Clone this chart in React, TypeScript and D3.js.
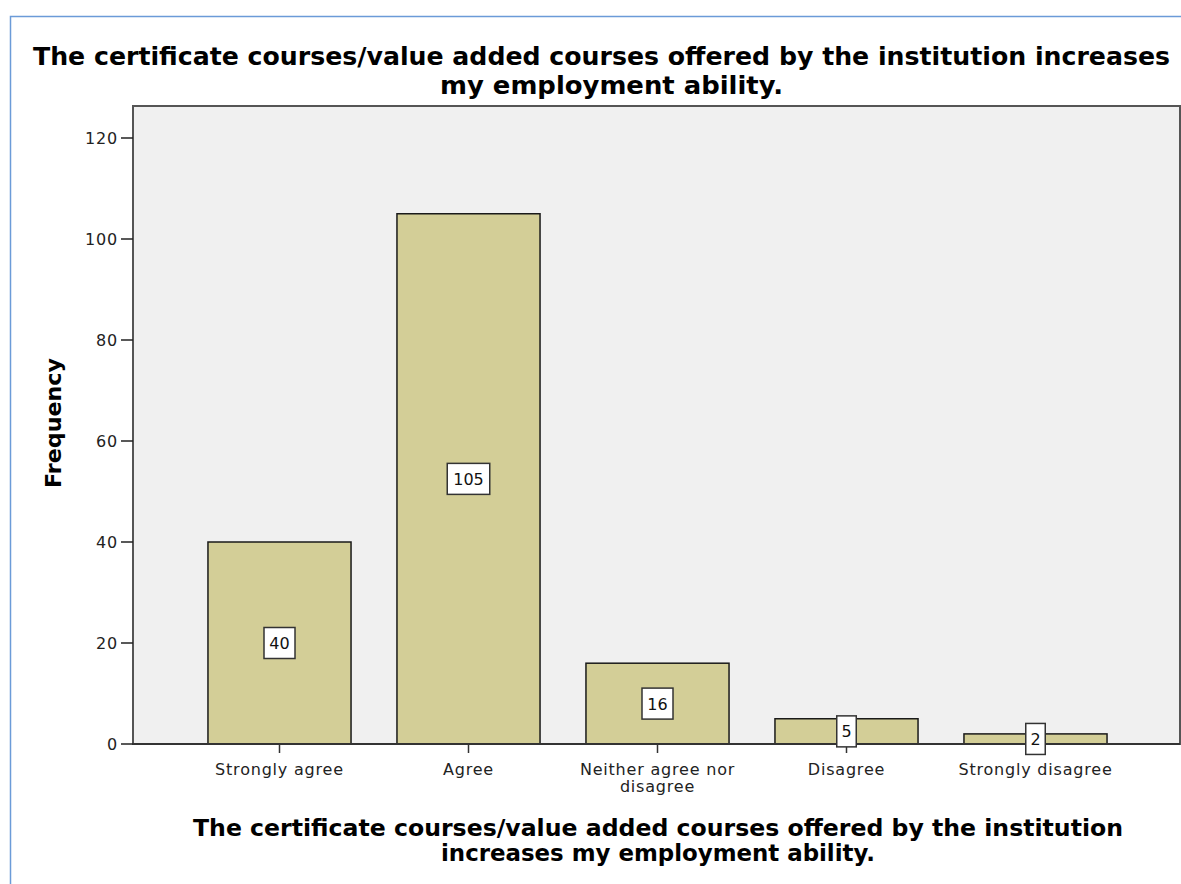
import React from 'react';
import * as d3 from 'd3';

const categories = ['Strongly agree', 'Agree', 'Neither agree nor disagree', 'Disagree', 'Strongly disagree'];
const tickLines = [['Strongly agree'], ['Agree'], ['Neither agree nor', 'disagree'], ['Disagree'], ['Strongly disagree']];
const frequencies = [40, 105, 16, 5, 2];
const yTicks = [0, 20, 40, 60, 80, 100, 120];
const titleLines = [
  'The certificate courses/value added courses offered by the institution increases',
  'my employment ability.',
];
const xTitleLines = [
  'The certificate courses/value added courses offered by the institution',
  'increases my employment ability.',
];
const yTitle = 'Frequency';

const W = 1181;
const H = 884;
const font = '"DejaVu Sans", Verdana, sans-serif';

const App = () => {
  // plot frame
  const left = 133, top = 106, right = 1180, bottom = 744;

  const y = d3.scaleLinear().domain([0, 120]).range([bottom, 138]);
  const x = d3.scaleBand<string>()
    .domain(categories)
    .range([185, 1130])
    .paddingInner(0.243)
    .paddingOuter(0.1215);

  const boxW = (s: string) => 8 + 11.5 * s.length;

  return (
    <svg width={W} height={H} style={{ position: 'absolute', left: 0, top: 0, background: '#fff' }}>
      {/* outer frame */}
      <path d={`M10.5,${H} V16.5 H${W}`} fill="none" stroke="#6b9bd8" strokeWidth={1.5} />

      {/* chart title */}
      <text x={601.5} y={65} textAnchor="middle" fontFamily={font} fontWeight="bold" fontSize={24}
        fill="#000" textLength={1137} lengthAdjust="spacingAndGlyphs">{titleLines[0]}</text>
      <text x={611.5} y={94} textAnchor="middle" fontFamily={font} fontWeight="bold" fontSize={24}
        fill="#000" textLength={343} lengthAdjust="spacingAndGlyphs">{titleLines[1]}</text>

      {/* plot area */}
      <rect x={left} y={top} width={right - left} height={bottom - top} fill="#f0f0f0"
        stroke="#555" strokeWidth={2} />

      {/* y axis ticks */}
      {yTicks.map(v => (
        <g key={v}>
          <line x1={121} x2={left} y1={y(v)} y2={y(v)} stroke="#222" strokeWidth={1.5} />
          <text x={118} y={y(v) + 6} textAnchor="end" fontFamily={font} fontSize={16}
            letterSpacing={0.8} fill="#222">{v}</text>
        </g>
      ))}

      {/* bars */}
      {categories.map((c, i) => (
        <rect key={c} x={x(c)} y={y(frequencies[i])} width={x.bandwidth()}
          height={bottom - y(frequencies[i])} fill="#d3ce97" stroke="#1a1a1a" strokeWidth={1.5} />
      ))}

      {/* x axis line */}
      <line x1={left} x2={right} y1={bottom} y2={bottom} stroke="#333" strokeWidth={2} />

      {/* x ticks and labels */}
      {categories.map((c, i) => {
        const cx = (x(c) as number) + x.bandwidth() / 2;
        return (
          <g key={c}>
            <line x1={cx} x2={cx} y1={bottom} y2={bottom + 9} stroke="#333" strokeWidth={1.5} />
            {tickLines[i].map((t, j) => (
              <text key={j} x={cx} y={775 + j * 17} textAnchor="middle" fontFamily={font}
                fontSize={16} letterSpacing={0.8} fill="#222">{t}</text>
            ))}
          </g>
        );
      })}

      {/* value labels */}
      {categories.map((c, i) => {
        const cx = (x(c) as number) + x.bandwidth() / 2;
        const cy = y(frequencies[i] / 2);
        const s = String(frequencies[i]);
        const bw = boxW(s);
        return (
          <g key={c}>
            <rect x={cx - bw / 2} y={cy - 15.5} width={bw} height={31} fill="#fff"
              stroke="#333" strokeWidth={1.5} />
            <text x={cx} y={cy + 6} textAnchor="middle" fontFamily={font} fontSize={16} fill="#111">{s}</text>
          </g>
        );
      })}

      {/* axis titles */}
      <text transform={`translate(61,423) rotate(-90)`} textAnchor="middle" fontFamily={font}
        fontWeight="bold" fontSize={21} fill="#000" textLength={130} lengthAdjust="spacingAndGlyphs">{yTitle}</text>
      <text x={658} y={836} textAnchor="middle" fontFamily={font} fontWeight="bold" fontSize={23}
        fill="#000" textLength={930} lengthAdjust="spacingAndGlyphs">{xTitleLines[0]}</text>
      <text x={658} y={861} textAnchor="middle" fontFamily={font} fontWeight="bold" fontSize={23}
        fill="#000" textLength={434} lengthAdjust="spacingAndGlyphs">{xTitleLines[1]}</text>
    </svg>
  );
};

export default App;
